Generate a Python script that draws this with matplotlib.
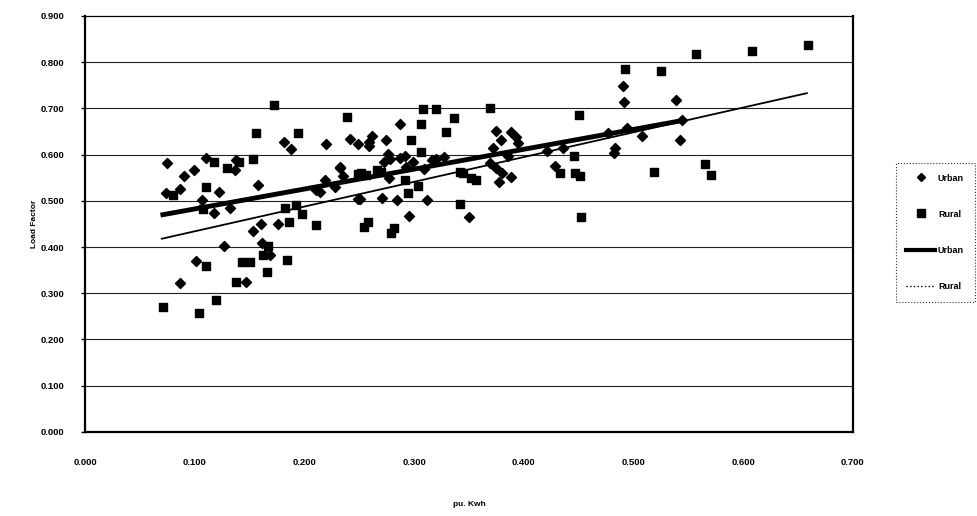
import matplotlib
matplotlib.use("Agg")
import matplotlib.pyplot as plt
from matplotlib.lines import Line2D

# scatter points: pu. kWh vs load factor
urban_x = [0.0745, 0.074, 0.087, 0.090, 0.099, 0.110, 0.122, 0.107, 0.118, 0.132,
           0.137, 0.138, 0.158, 0.181, 0.188, 0.220, 0.242, 0.249, 0.176, 0.160,
           0.153, 0.161, 0.169, 0.127, 0.101, 0.147, 0.087, 0.232, 0.235, 0.214,
           0.249, 0.228, 0.259, 0.262, 0.259, 0.274, 0.287, 0.375, 0.388, 0.379,
           0.393, 0.395, 0.372, 0.386, 0.421, 0.436, 0.428, 0.369, 0.375, 0.380,
           0.388, 0.377, 0.350, 0.276, 0.278, 0.273, 0.287, 0.292, 0.299, 0.293,
           0.316, 0.320, 0.327, 0.309, 0.277, 0.251, 0.271, 0.284, 0.312, 0.295,
           0.219, 0.211, 0.490, 0.491, 0.539, 0.544, 0.508, 0.542, 0.483, 0.482,
           0.477, 0.494, 0.232]
urban_y = [0.582, 0.518, 0.525, 0.553, 0.567, 0.593, 0.519, 0.502, 0.473, 0.485,
           0.566, 0.589, 0.535, 0.627, 0.612, 0.623, 0.634, 0.623, 0.450, 0.450,
           0.434, 0.408, 0.382, 0.403, 0.370, 0.325, 0.323, 0.573, 0.553, 0.520,
           0.504, 0.529, 0.628, 0.641, 0.619, 0.632, 0.667, 0.652, 0.649, 0.632,
           0.638, 0.625, 0.614, 0.596, 0.607, 0.614, 0.576, 0.582, 0.571, 0.560,
           0.551, 0.540, 0.466, 0.601, 0.590, 0.585, 0.592, 0.597, 0.583, 0.574,
           0.589, 0.590, 0.595, 0.569, 0.549, 0.504, 0.507, 0.501, 0.501, 0.468,
           0.545, 0.524, 0.749, 0.714, 0.719, 0.675, 0.641, 0.632, 0.614, 0.603,
           0.647, 0.657, 0.571]

rural_x = [0.080, 0.118, 0.110, 0.108, 0.129, 0.140, 0.153, 0.156, 0.172, 0.194,
           0.239, 0.182, 0.192, 0.198, 0.211, 0.186, 0.167, 0.162, 0.184, 0.166,
           0.110, 0.143, 0.150, 0.138, 0.119, 0.071, 0.104, 0.249, 0.297, 0.306,
           0.308, 0.320, 0.336, 0.329, 0.369, 0.450, 0.446, 0.433, 0.447, 0.451,
           0.342, 0.345, 0.352, 0.356, 0.342, 0.452, 0.306, 0.252, 0.256, 0.266,
           0.270, 0.292, 0.304, 0.294, 0.258, 0.254, 0.282, 0.279, 0.659, 0.608,
           0.557, 0.492, 0.525, 0.519, 0.565, 0.571]
rural_y = [0.513, 0.584, 0.531, 0.482, 0.571, 0.585, 0.591, 0.647, 0.707, 0.647,
           0.681, 0.484, 0.491, 0.471, 0.448, 0.454, 0.403, 0.382, 0.371, 0.345,
           0.360, 0.367, 0.367, 0.325, 0.286, 0.271, 0.258, 0.558, 0.631, 0.667,
           0.699, 0.699, 0.679, 0.649, 0.701, 0.686, 0.596, 0.560, 0.561, 0.553,
           0.563, 0.560, 0.549, 0.545, 0.494, 0.466, 0.605, 0.560, 0.556, 0.567,
           0.563, 0.545, 0.532, 0.517, 0.455, 0.444, 0.441, 0.430, 0.838, 0.825,
           0.817, 0.786, 0.782, 0.562, 0.579, 0.556]

# trend line end points
urban_fit_x = [0.071, 0.545]
urban_fit_y = [0.470, 0.674]
rural_fit_x = [0.070, 0.658]
rural_fit_y = [0.418, 0.733]

ticks_x = [0.0, 0.1, 0.2, 0.3, 0.4, 0.5, 0.6, 0.7]
ticks_y = [0.0, 0.1, 0.2, 0.3, 0.4, 0.5, 0.6, 0.7, 0.8, 0.9]

plt.rcParams["font.family"] = ["Liberation Sans", "DejaVu Sans"]
plt.rcParams["font.weight"] = "bold"

fig = plt.figure(figsize=(9.77, 5.16), dpi=100)
ax = fig.add_axes([0.087, 0.163, 0.786, 0.806])

for y in ticks_y[1:-1]:
    ax.axhline(y, color="#222222", lw=0.8, zorder=1)

ax.scatter(urban_x, urban_y, marker="D", s=26, color="black", zorder=3)
ax.scatter(rural_x, rural_y, marker="s", s=36, color="black", zorder=3)
ax.plot(urban_fit_x, urban_fit_y, color="black", lw=3.5, zorder=4)
ax.plot(rural_fit_x, rural_fit_y, color="black", lw=1.3, zorder=4)

ax.set_xlim(0, 0.7)
ax.set_ylim(0, 0.9)
ax.set_xticks(ticks_x)
ax.set_yticks(ticks_y)
ax.set_xticklabels([f"{v:.3f}" for v in ticks_x])
ax.set_yticklabels([f"{v:.3f}" for v in ticks_y])
ax.tick_params(labelsize=6.8, length=3, width=1, pad=12)
ax.tick_params(axis="x", length=0, pad=19)
for side in ["left", "bottom", "right"]:
    ax.spines[side].set_linewidth(1.6)
ax.spines["top"].set_linewidth(0.9)

ax.set_xlabel("pu. Kwh", fontsize=6, fontweight="bold")
ax.xaxis.set_label_coords(0.5, -0.166)
ax.set_ylabel("Load Factor", fontsize=6, fontweight="bold", labelpad=2)

handles = [
    Line2D([], [], marker="D", ls="", color="black", markersize=4.5),
    Line2D([], [], marker="s", ls="", color="black", markersize=5.5),
    Line2D([], [], color="black", lw=3),
    Line2D([], [], color="black", lw=1, ls=":"),
]
leg = fig.legend(handles, ["Urban", "Rural", "Urban", "Rural"],
                 loc="center left", bbox_to_anchor=(0.912, 0.55),
                 fontsize=6.5, labelspacing=3.0, handlelength=3.2,
                 handletextpad=0.3, borderpad=1.2, frameon=True,
                 fancybox=False, edgecolor="black")
leg.get_frame().set_linestyle(":")
leg.get_frame().set_linewidth(0.8)

fig.savefig("out.png", dpi=100)
